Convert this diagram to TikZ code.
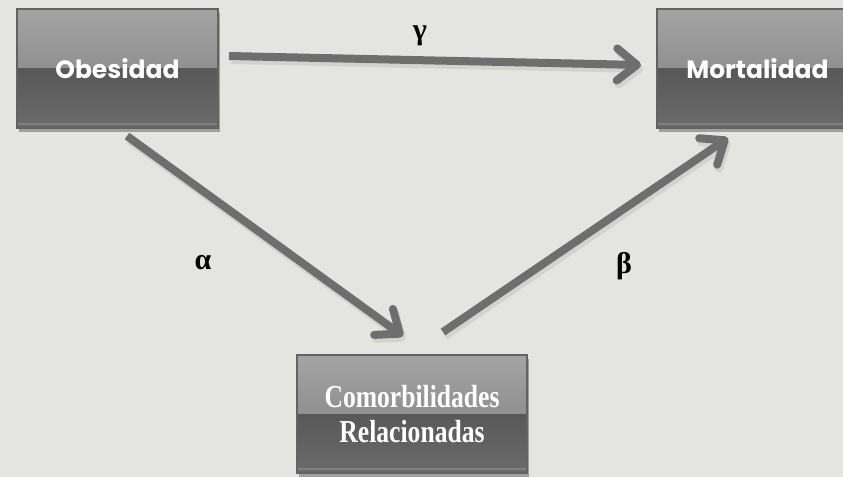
\documentclass[tikz,border=0pt]{standalone}
\usepackage{fontspec}
\setmainfont{Liberation Serif}
\newfontfamily\gothic{Poppins}
\newfontfamily\narrowserif[FakeStretch=0.8]{Liberation Serif}
\usetikzlibrary{arrows.meta,shadows,calc}
\definecolor{bg}{HTML}{E4E5E0}
\definecolor{gtop}{HTML}{A4A4A4}
\definecolor{gmidup}{HTML}{7C7C7C}
\definecolor{gmiddn}{HTML}{585858}
\definecolor{gbot}{HTML}{6B6B6B}
\definecolor{boxedge}{HTML}{636363}
\definecolor{arrowgray}{HTML}{6E6E6E}
\tikzset{
  gbox/.style={rectangle, inner sep=0pt, draw=boxedge, line width=2pt, text=white,
    drop shadow={shadow xshift=2pt, shadow yshift=-4pt, opacity=0.3, fill=black},
    path picture={
      \shade[top color=gtop, bottom color=gmidup]
        (path picture bounding box.north west) rectangle (path picture bounding box.east);
      \shade[top color=gmiddn, bottom color=gbot]
        (path picture bounding box.west) rectangle (path picture bounding box.south east);
      \draw[line width=2pt, color=white, opacity=0.15]
        ([yshift=4pt]path picture bounding box.south west) -- ([yshift=4pt]path picture bounding box.south east);
    }},
  sansbox/.style={gbox, minimum width=201pt, minimum height=119pt,
    font=\gothic\bfseries\fontsize{25}{28}\selectfont},
  serifbox/.style={gbox, minimum width=230pt, minimum height=118pt, align=center,
    font=\narrowserif\bfseries\fontsize{32}{35}\selectfont},
  conn/.style={line width=8pt, color=arrowgray,
    -{Straight Barb[length=20pt, width=32pt, round]}},
  connshadow/.style={line width=8pt, color=black, opacity=0.08,
    -{Straight Barb[length=20pt, width=32pt, round]}},
  greek/.style={text=black, font=\bfseries\fontsize{30}{32}\selectfont}
}
\begin{document}
\begin{tikzpicture}[x=1pt,y=-1pt]
\fill[bg] (0,0) rectangle (843,477);
\useasboundingbox (0,0) rectangle (843,477);

\node[sansbox] (ob) at (117.5,68.5) {Obesidad};
\node[sansbox] (mo) at (757.5,68.5) {Mortalidad};
\node[serifbox] (co) at (412,414) {Comorbilidades\\Relacionadas};

\coordinate (gs) at ($(ob.east)+(10,-12.5)$);
\coordinate (ge) at ($(mo.west)+(-15,-3.5)$);
\coordinate (as) at ($(ob.south)+(9.5,7)$);
\coordinate (ae) at ($(co.north)+(-9,-18)$);
\coordinate (bs) at ($(co.north)+(31,-22)$);
\coordinate (be) at ($(mo.south)+(-29.5,9)$);

\draw[connshadow] ($(gs)+(2,4)$) -- ($(ge)+(2,4)$);
\draw[connshadow] ($(as)+(2,4)$) -- ($(ae)+(2,4)$);
\draw[connshadow] ($(bs)+(2,4)$) -- ($(be)+(2,4)$);
\draw[conn] (gs) -- (ge);
\draw[conn] (as) -- (ae);
\draw[conn] (bs) -- (be);

\node[greek] (gl) at (420,36) {γ};
\node[greek] (al) at (203,263) {α};
\node[greek] (bl) at (624,266) {β};
\end{tikzpicture}
\end{document}
